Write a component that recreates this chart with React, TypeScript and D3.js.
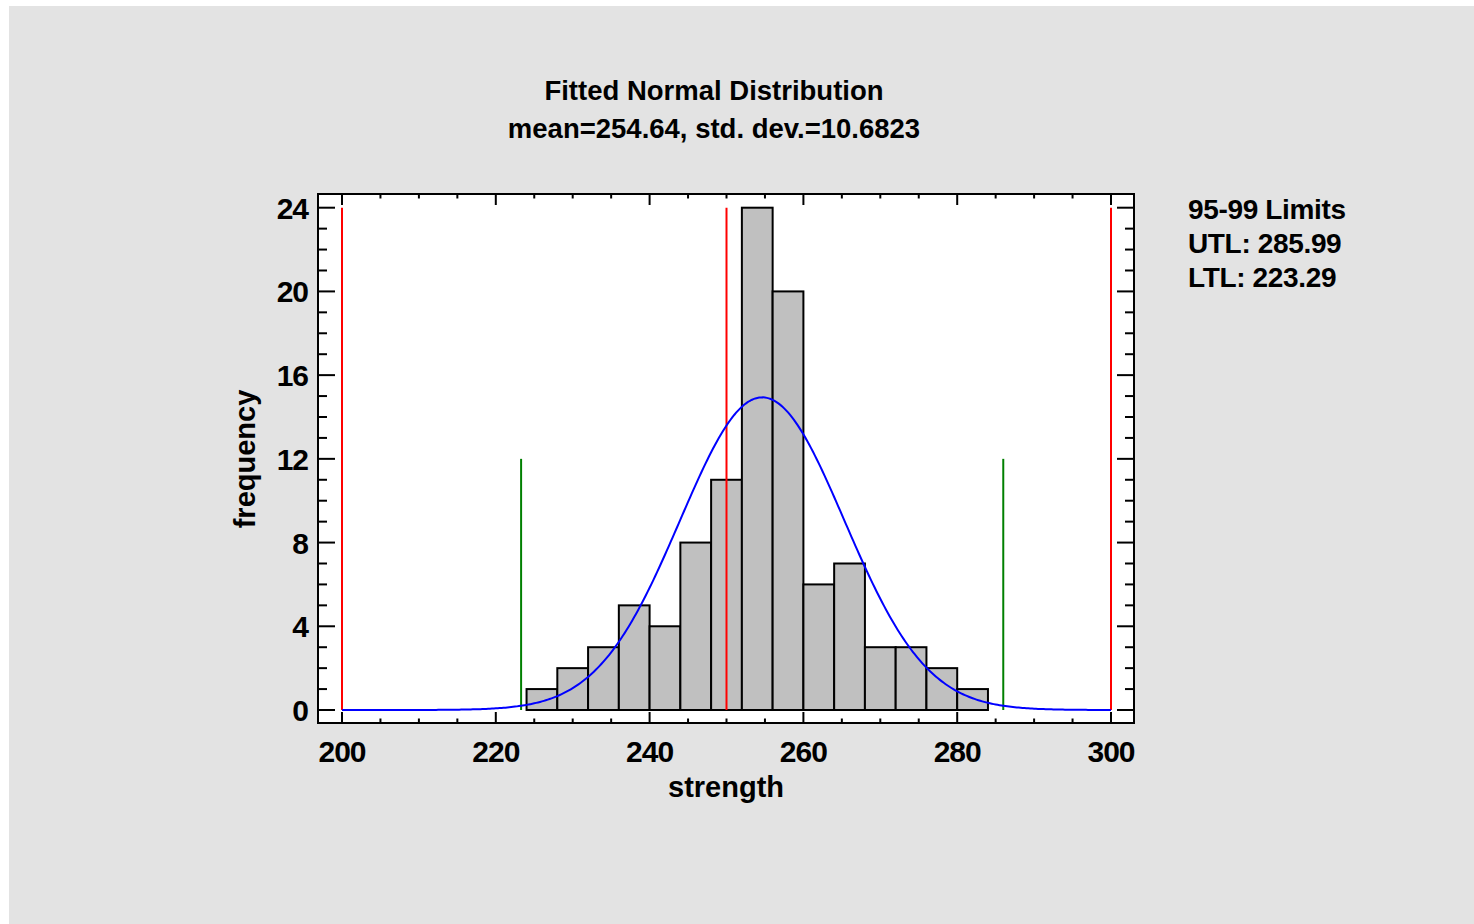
import React from 'react';
import * as d3 from 'd3';

// ---- data ----
const binStarts = [220, 224, 228, 232, 236, 240, 244, 248, 252, 256, 260, 264, 268, 272, 276, 280, 284, 288, 292, 296];
const binCounts = [0, 1, 2, 3, 5, 4, 8, 11, 24, 20, 6, 7, 3, 3, 2, 1, 0, 0, 0, 0];
const binWidth = 4;
const fitMean = 254.64;
const fitStd = 10.6823;
const sampleSize = 100;
const specLimits = [200, 250, 300];
const specTop = 24;
const toleranceLimits = [223.29, 285.99];
const toleranceTop = 12;
const xTickLabels = [200, 220, 240, 260, 280, 300];
const xMinorTicks = d3.range(200, 301, 5);
const yTickLabels = [0, 4, 8, 12, 16, 20, 24];
const yMinorTicks = d3.range(0, 25, 1);
const titleLines = ['Fitted Normal Distribution', 'mean=254.64, std. dev.=10.6823'];
const legendLines = ['95-99 Limits', 'UTL: 285.99', 'LTL: 223.29'];
const xLabel = 'strength';
const yLabel = 'frequency';

const FONT = '"Liberation Sans", Arial, Helvetica, sans-serif';

export default function App() {
  const W = 1474;
  const H = 924;
  const frame = { left: 318, top: 194, right: 1134, bottom: 723 };
  const x = d3.scaleLinear().domain([200, 300]).range([342, 1111]);
  const y = d3.scaleLinear().domain([0, 24]).range([710, 207.7]);

  const pdfScale = sampleSize * binWidth;
  const curveXs = d3.range(200, 300.001, 0.25);
  const curvePts: [number, number][] = curveXs.map((v) => {
    const z = (v - fitMean) / fitStd;
    const d = (pdfScale / (fitStd * Math.sqrt(2 * Math.PI))) * Math.exp(-0.5 * z * z);
    return [x(v), y(d)];
  });
  const line = d3.line();

  return (
    <svg
      width={W}
      height={H}
      style={{ position: 'absolute', left: 0, top: 0, display: 'block' }}
      fontFamily={FONT}
      fontWeight="bold"
    >
      <rect x={0} y={0} width={W} height={H} fill="#ffffff" />
      <rect x={9} y={6} width={W - 9} height={H - 6} fill="#e3e3e3" />

      {/* title */}
      <text x={714} y={99.5} textAnchor="middle" fontSize={27.5} fill="#000">{titleLines[0]}</text>
      <text x={714} y={137.5} textAnchor="middle" fontSize={27.5} fill="#000">{titleLines[1]}</text>

      {/* plot area */}
      <rect x={frame.left} y={frame.top} width={frame.right - frame.left} height={frame.bottom - frame.top} fill="#ffffff" />

      {/* bars */}
      {binStarts.map((s, i) => (
        <rect
          key={'b' + i}
          x={x(s)}
          y={y(binCounts[i])}
          width={x(s + binWidth) - x(s)}
          height={y(0) - y(binCounts[i])}
          fill="#c0c0c0"
          stroke="#000"
          strokeWidth={2}
        />
      ))}

      {/* spec limits */}
      {specLimits.map((v, i) => (
        <line key={'r' + i} x1={x(v)} x2={x(v)} y1={y(0)} y2={y(specTop)} stroke="#ff0000" strokeWidth={2} />
      ))}
      {/* tolerance limits */}
      {toleranceLimits.map((v, i) => (
        <line key={'g' + i} x1={x(v)} x2={x(v)} y1={y(0)} y2={y(toleranceTop)} stroke="#008000" strokeWidth={2} />
      ))}

      {/* fitted curve */}
      <path d={line(curvePts) || ''} fill="none" stroke="#0000ff" strokeWidth={2} />

      {/* x ticks */}
      {xMinorTicks.map((v, i) => {
        const major = v % 20 === 0;
        const len = major ? 11 : 4.5;
        return (
          <g key={'xt' + i}>
            <line x1={x(v)} x2={x(v)} y1={frame.bottom} y2={frame.bottom - len} stroke="#000" strokeWidth={2} />
            <line x1={x(v)} x2={x(v)} y1={frame.top} y2={frame.top + len} stroke="#000" strokeWidth={2} />
          </g>
        );
      })}
      {/* y ticks */}
      {yMinorTicks.map((v, i) => {
        const major = v % 4 === 0;
        const len = major ? 17 : 9;
        return (
          <g key={'yt' + i}>
            <line x1={frame.left} x2={frame.left + len} y1={y(v)} y2={y(v)} stroke="#000" strokeWidth={2} />
            <line x1={frame.right} x2={frame.right - len} y1={y(v)} y2={y(v)} stroke="#000" strokeWidth={2} />
          </g>
        );
      })}

      {/* frame */}
      <rect x={frame.left} y={frame.top} width={frame.right - frame.left} height={frame.bottom - frame.top} fill="none" stroke="#000" strokeWidth={2} />

      {/* tick labels */}
      {xTickLabels.map((v, i) => (
        <text key={'xl' + i} x={x(v)} y={761.5} textAnchor="middle" fontSize={30} letterSpacing={-1} fill="#000">{v}</text>
      ))}
      {yTickLabels.map((v, i) => (
        <text key={'yl' + i} x={308} y={y(v) + 11} textAnchor="end" fontSize={30} letterSpacing={-1} fill="#000">{v}</text>
      ))}

      {/* axis labels */}
      <text x={726} y={797} textAnchor="middle" fontSize={29} fill="#000">{xLabel}</text>
      <text transform={`translate(255,459) rotate(-90)`} textAnchor="middle" fontSize={29} fill="#000">{yLabel}</text>

      {/* legend */}
      {legendLines.map((t, i) => (
        <text key={'lg' + i} x={1188} y={218.5 + i * 34} fontSize={28} letterSpacing={-0.35} fill="#000">{t}</text>
      ))}
    </svg>
  );
}
